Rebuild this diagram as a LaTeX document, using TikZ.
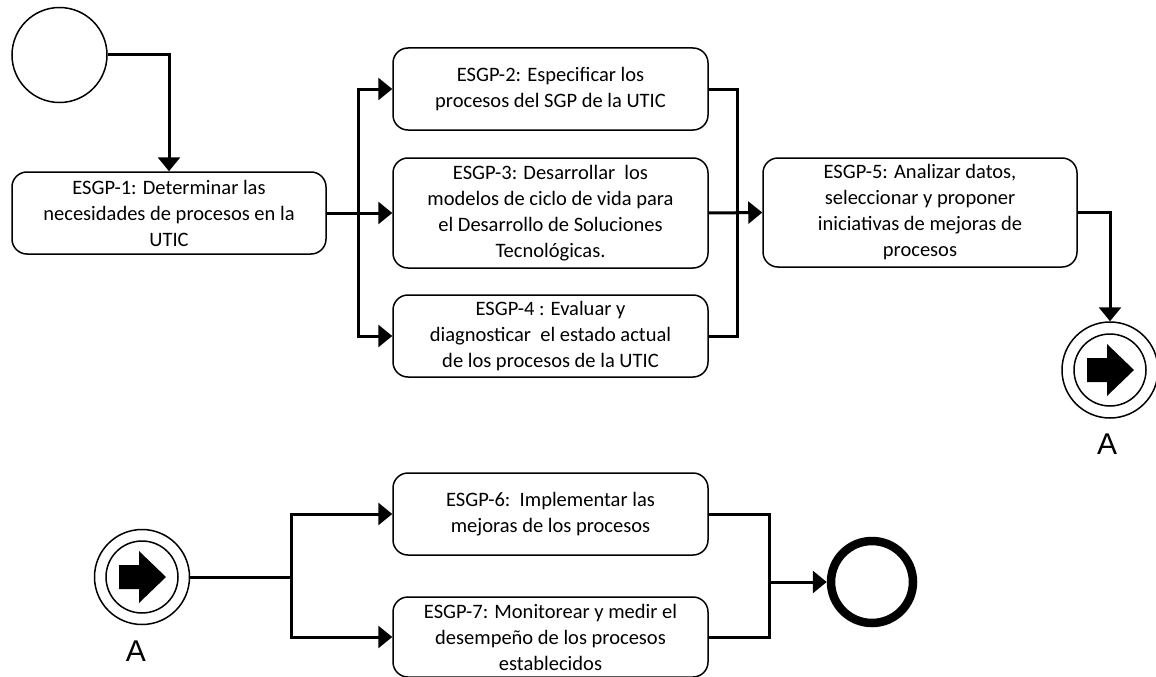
\documentclass[tikz,border=0pt]{standalone}
\usepackage{fontspec}
\setmainfont{Carlito}
\newfontfamily\labelfont{Liberation Sans}
\usetikzlibrary{arrows.meta}

\tikzset{
  task/.style={draw, line width=1.5pt, rounded corners=15pt, align=center,
    minimum width=315pt, inner sep=0pt,
    font=\fontsize{20.5pt}{26pt}\selectfont},
  link/.style={line width=3pt},
  flow/.style={line width=3pt, -{Triangle[length=14pt,width=22pt]}},
  ring/.style={draw, circle, line width=1.5pt, inner sep=0pt},
  letter/.style={font=\labelfont\fontsize{30pt}{32pt}\selectfont},
  pics/linkarrow/.style={code={
    \draw[line width=1.5pt] (0,0) circle (36pt);
    \fill (-23,-12) -- (-3,-12) -- (-3,-26) -- (24,0) -- (-3,26) -- (-3,12) -- (-23,12) -- cycle;
  }}
}

\begin{document}
\begin{tikzpicture}[x=1pt, y=-1pt]
\useasboundingbox (0,0) rectangle (1156,677);

% events
\node[ring, minimum size=95pt] (start) at (59.5,55) {};
\node[ring, minimum size=96pt] (linkout) at (1110,370) {};
\pic at (linkout.center) {linkarrow};
\node[letter] (aout) at (1107,444) {A};
\node[ring, minimum size=95pt] (linkin) at (142,577) {};
\pic at (linkin.center) {linkarrow};
\node[letter] (ain) at (136,651) {A};
\node[draw, circle, line width=8.5pt, minimum size=82pt, inner sep=0pt] (stop) at (872,582) {};

% tasks
\node[task, minimum width=314pt, minimum height=82pt] (e1) at (169,213)
  {ESGP-1: Determinar las\\necesidades de procesos en la\\UTIC};
\node[task, minimum height=82pt] (e2) at (550.5,89)
  {ESGP-2: Especificar los\\procesos del SGP de la UTIC};
\node[task, minimum height=110pt] (e3) at (550.5,213)
  {ESGP-3: Desarrollar\ \ los\\modelos de ciclo de vida para\\el Desarrollo de Soluciones\\Tecnológicas.};
\node[task, minimum height=82pt] (e4) at (550.5,336)
  {ESGP-4 : Evaluar y\\diagnosticar\ \ el estado actual\\de los procesos de la UTIC};
\node[task, minimum width=314pt, minimum height=109pt] (e5) at (920,212.5)
  {ESGP-5: Analizar datos,\\seleccionar y proponer\\iniciativas de mejoras de\\procesos};
\node[task, minimum height=82pt] (e6) at (550.5,514)
  {ESGP-6:\ \ Implementar las\\mejoras de los procesos};
\node[task, minimum height=80pt] (e7) at (550.5,637)
  {ESGP-7: Monitorear y medir el\\desempeño de los procesos\\establecidos};

% branch and join points
\coordinate (split1) at (358,213);
\coordinate (join1) at (737,213);
\coordinate (split2) at (291,577);
\coordinate (join2) at (769,582);

% sequence flows
\draw[flow] (start.east) -| (e1.north);
\draw[link] (e1.east) -- (split1);
\draw[flow] (split1) |- (e2.west);
\draw[flow] (split1) -- (e3.west);
\draw[flow] (split1) |- (e4.west);
\draw[link] (e2.east) -| (join1);
\draw[link] (e4.east) -| (join1);
\draw[flow] (e3.east) -- (e5.west);
\draw[flow] (e5.east) -| (linkout.north);

\draw[link] (linkin.east) -- (split2);
\draw[flow] (split2) |- (e6.west);
\draw[flow] (split2) |- (e7.west);
\draw[link] (e6.east) -| (join2);
\draw[link] (e7.east) -| (join2);
\draw[flow] (join2) -- (stop.west);
\end{tikzpicture}
\end{document}
